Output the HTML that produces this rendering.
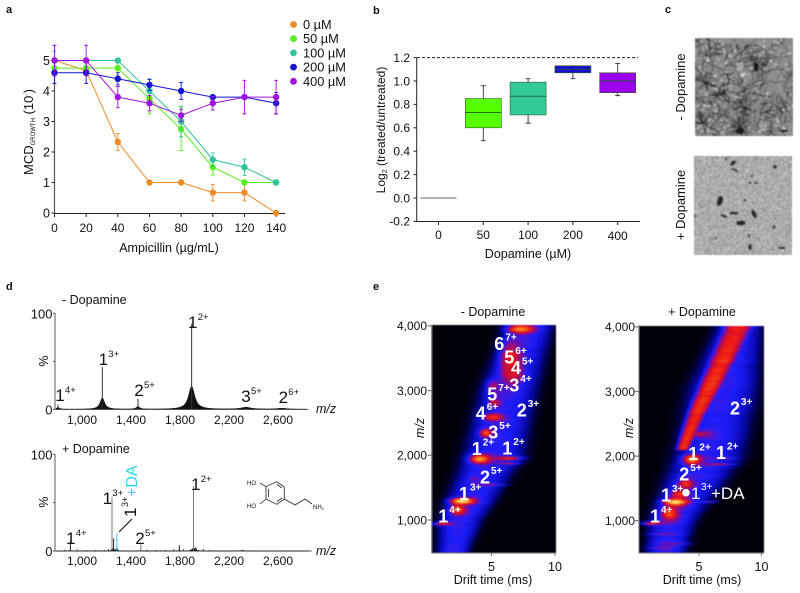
<!DOCTYPE html>
<html lang="en">
<head>
<meta charset="utf-8">
<title>Dopamine figure</title>
<style>
html,body{margin:0;padding:0;background:#fff;}
#page{position:relative;width:800px;height:593px;overflow:hidden;background:#fff;font-family:"Liberation Sans",Arial,sans-serif;}
#page canvas{position:absolute;display:block;}
#tem-top,#tem-bottom{filter:blur(0.45px);}
#heat-minus,#heat-plus{filter:blur(0.5px);}
#overlay{position:absolute;left:0;top:0;}
#overlay text{font-family:"Liberation Sans",Arial,sans-serif;fill:#111;}
</style>
</head>
<body>
<div id="page">
<canvas id="tem-top" width="98" height="98" style="left:695px;top:38px;width:98px;height:98px"></canvas>
<canvas id="tem-bottom" width="98" height="99" style="left:694px;top:156px;width:98px;height:99px"></canvas>
<canvas id="heat-minus" width="124" height="228" style="left:432px;top:325px;width:124px;height:228px"></canvas>
<canvas id="heat-plus" width="125" height="227" style="left:639px;top:326px;width:125px;height:227px"></canvas>
<svg id="overlay" width="800" height="593" viewBox="0 0 800 593" xmlns="http://www.w3.org/2000/svg">
  <g font-weight="bold" font-size="11">
    <text x="6" y="13">a</text>
    <text x="373" y="14">b</text>
    <text x="665" y="13">c</text>
    <text x="6" y="290">d</text>
    <text x="373" y="290">e</text>
  </g>
  <g id="chart-a"></g>
  <text x="169" y="252" text-anchor="middle" font-size="12.5">Ampicillin (µg/mL)</text>
  <text transform="translate(33,132) rotate(-90)" text-anchor="middle" font-size="13">MCD<tspan font-size="6" dy="2">GROWTH</tspan><tspan dy="-2"> (10</tspan><tspan font-size="7" dy="-4">-</tspan><tspan dy="4">)</tspan></text>
  <g id="legend-a"></g>

  <g id="chart-b"></g>
  <text transform="translate(385,130) rotate(-90)" text-anchor="middle" font-size="12">Log<tspan font-size="7" dy="2">2</tspan><tspan dy="-2"> (treated/untreated)</tspan></text>
  <text x="528" y="258" text-anchor="middle" font-size="12.5">Dopamine (µM)</text>

  <text transform="translate(685,87) rotate(-90)" text-anchor="middle" font-size="13">- Dopamine</text>
  <text transform="translate(685,205) rotate(-90)" text-anchor="middle" font-size="13">+ Dopamine</text>

  <g id="chart-d"></g>
  <text x="62" y="304" font-size="12.5">- Dopamine</text>
  <text x="62" y="453" font-size="12.5">+ Dopamine</text>
  <text transform="translate(48,361) rotate(-90)" text-anchor="middle" font-size="12.5">%</text>
  <text transform="translate(48,502) rotate(-90)" text-anchor="middle" font-size="12.5">%</text>
  <text x="316" y="413" font-size="12.5" font-style="italic">m/z</text>
  <text x="316" y="555" font-size="12.5" font-style="italic">m/z</text>
  <text transform="translate(137,497) rotate(-90)" font-size="16" style="fill:#25d8ee">+DA</text>
  <text transform="translate(136,517) rotate(-90)" font-size="17">1</text>
  <text transform="translate(128,507) rotate(-90)" font-size="9">3+</text>
  <line x1="119" y1="532" x2="132" y2="519" stroke="#111" stroke-width="1"/>
  <g fill="none" stroke="#222" stroke-width="0.8">
    <polyline points="266,486.7 276.7,481.7 284.3,487 284.3,499 276.7,504.3 266,499 266,486.7"/>
    <line x1="268.5" y1="489" x2="268.5" y2="497"/>
    <line x1="277" y1="484.5" x2="282" y2="488"/>
    <line x1="277" y1="501.5" x2="282" y2="498"/>
    <polyline points="284.3,499 295,505 305,499 312,504"/>
    <line x1="266" y1="486.7" x2="260" y2="483"/>
    <line x1="266" y1="499" x2="260" y2="504"/>
  </g>
  <text x="247" y="485" font-size="6">HO</text>
  <text x="247" y="508" font-size="6">HO</text>
  <text x="313" y="509" font-size="6">NH<tspan font-size="4" dy="1">2</tspan></text>

  <g id="chart-e"></g>
  <text x="493" y="316" text-anchor="middle" font-size="12.5">- Dopamine</text>
  <text x="702" y="316" text-anchor="middle" font-size="12.5">+ Dopamine</text>
  <text x="493" y="584" text-anchor="middle" font-size="12.5">Drift time (ms)</text>
  <text x="702" y="584" text-anchor="middle" font-size="12.5">Drift time (ms)</text>
  <text transform="translate(424,428) rotate(-90)" text-anchor="middle" font-size="12.5" font-style="italic">m/z</text>
  <text transform="translate(633,428) rotate(-90)" text-anchor="middle" font-size="12.5" font-style="italic">m/z</text>
  <circle cx="686" cy="492.7" r="3.8" fill="#fff"/>
  <text x="691" y="499" font-size="17" style="fill:#fff">1</text>
  <text x="701" y="490" font-size="10" style="fill:#fff">3+</text>
  <text x="711" y="499" font-size="17" style="fill:#fff">+DA</text>
  <g id="labels"></g>
</svg>
</div>
<script>
// ---------- Panel a data ----------
const ampicillinDoses = [0, 20, 40, 60, 80, 100, 120, 140];
const mcdTicks = [0, 1, 2, 3, 4, 5];
const seriesNames = ['0 µM', '50 µM', '100 µM', '200 µM', '400 µM'];
const seriesColors = ['#f28a26', '#57ee1c', '#30c596', '#1512d8', '#a012e2'];
const mcd0 = [5, 4.67, 2.33, 1, 1, 0.67, 0.67, 0];
const mcd50 = [4.75, 4.75, 4.75, 3.75, 2.75, 1.5, 1, 1];
const mcd100 = [5, 5, 5, 4, 3, 1.75, 1.5, 1];
const mcd200 = [4.6, 4.6, 4.4, 4.2, 4, 3.8, 3.8, 3.6];
const mcd400 = [5, 5, 3.8, 3.6, 3.2, 3.6, 3.8, 3.8];
const err0 = [0, 0, 0.28, 0, 0, 0.27, 0.27, 0];
const err50 = [0.25, 0.25, 0.25, 0.5, 0.7, 0.25, 0, 0];
const err100 = [0.3, 0, 0, 0.4, 0.5, 0.22, 0.27, 0];
const err200 = [0.35, 0.35, 0.2, 0.18, 0.28, 0, 0, 0.35];
const err400 = [0.5, 0.5, 0.35, 0.25, 0.2, 0.22, 0.55, 0.55];

// ---------- Panel b data ----------
const boxCategories = ['0', '50', '100', '200', '400'];
const boxTicks = [-0.2, 0, 0.2, 0.4, 0.6, 0.8, 1.0, 1.2];
const boxMin = [0, 0.49, 0.64, 1.02, 0.875];
const boxQ1 = [0, 0.6, 0.71, 1.07, 0.9];
const boxMedian = [0, 0.73, 0.87, 1.1, 1.0];
const boxQ3 = [0, 0.85, 0.99, 1.13, 1.07];
const boxMax = [0, 0.96, 1.02, 1.13, 1.15];
const boxColors = ['#888888', '#55ff00', '#33cc99', '#1a0fd0', '#9a00ee'];

// ---------- Panel d data (m/z, % height, broad base %, tail width) ----------
const specTickLabels = ['1,000', '1,400', '1,800', '2,200', '2,600'];
const specTickMz = [1000, 1400, 1800, 2200, 2600];
const minusMz = [804, 1166, 1457, 1895, 2339, 2630];
const minusHeight = [5, 44, 11, 89, 2, 1];
const minusBase = [2, 12, 3, 24, 2, 1];
const minusTail = [14, 22, 16, 30, 50, 50];
const plusMz = [905, 1245, 1258, 1285, 1480, 1795, 1910, 1930, 2310];
const plusHeight = [10, 56, 13, 18, 7, 6, 67, 4, 1];
const plusBase = [1, 2, 2, 3, 1, 1, 3, 1, 0.5];
const plusTail = [5, 6, 8, 6, 6, 6, 14, 8, 25];
const plusColorIndex = [0, 1, 0, 2, 1, 0, 1, 0, 0];
const plusMinorMz = [860, 960, 1040, 1110, 1180, 1215, 1530, 1600, 1680, 1750, 1830, 1990, 2040];
const plusMinorHeight = [1.5, 2, 1, 1, 1, 2, 1.5, 1, 1, 2, 2, 2, 1];

// ---------- Panel e data ----------
const mzTicks = [1000, 2000, 3000, 4000];
const mzTickLabels = ['1,000', '2,000', '3,000', '4,000'];
const driftTicks = [5, 10];
const bandMz = [500, 1000, 2000, 3000, 4000];
const minusBandLeft = [0.55, 0.6, 2.5, 3.8, 5.9];
const minusBandRight = [3.3, 4.4, 7.8, 8.8, 10];
const plusBandLeft = [0.55, 0.7, 2.7, 3.75, 6.1];
const plusBandRight = [4, 4.9, 8.8, 9.9, 10.2];
const minusPeakDrift = [1.1, 2.65, 2.3, 4.05, 6.3, 6.3, 4.9, 4.55, 5.1, 5.2, 5.1, 6.45, 6.6, 7.25, 3.6, 5.3];
const minusPeakMz = [950, 1300, 1170, 1950, 1960, 1880, 1550, 2350, 2600, 2820, 3080, 3500, 3300, 3960, 1650, 2960];
const minusPeakAmp = [0.72, 1, 0.8, 0.88, 0.72, 0.62, 0.6, 0.8, 0.74, 0.68, 0.6, 0.72, 0.66, 0.85, 0.5, 0.5];
const minusPeakSx = [0.8, 0.9, 0.6, 0.8, 1.1, 0.9, 1.1, 0.5, 0.8, 0.5, 0.5, 0.75, 0.7, 1.05, 0.5, 0.6];
const minusPeakSy = [22, 36, 60, 55, 24, 14, 10, 50, 45, 45, 70, 200, 160, 55, 60, 60];
const plusPeakDrift = [1.2, 3.08, 2.6, 4.4, 3.9, 6.5, 7, 5, 3.4, 2.2, 3, 2, 5.8];
const plusPeakMz = [965, 1295, 1120, 1955, 1580, 1880, 1970, 2350, 1420, 800, 650, 590, 1300];
const plusPeakAmp = [0.72, 1, 0.78, 0.86, 0.72, 0.62, 0.55, 0.62, 0.74, 0.55, 0.55, 0.55, 0.55];
const plusPeakSx = [0.8, 0.9, 0.7, 0.7, 0.55, 1.2, 0.9, 1.0, 0.7, 1.1, 1.2, 1.1, 0.6];
const plusPeakSy = [22, 45, 80, 60, 60, 12, 12, 40, 60, 10, 10, 10, 10];
const plusRidgeMz = [2300, 2667, 3000, 3500, 4000];
const plusRidgeDrift = [4.05, 4.8, 5.65, 6.9, 8.1];
const plusRidgeWidth = [0.75, 0.95, 1.15, 1.35, 1.5];

// ---------- Annotation labels: number, charge, x, baseline ----------
const labelNum = ['1','1','2','1','1','3','2','4','5','3','5','4','6','1','1','2','1','1','2'];
const labelSup = ['4+','3+','5+','2+','2+','5+','3+','6+','7+','4+','6+','5+','7+','4+','3+','5+','2+','2+','3+'];
const labelX = [443.3,464,485,476.7,507.3,493.3,521.7,480.7,492.3,514.3,509.3,516,499.3,655,666,684.3,693.3,721,735];
const labelY = [522.7,500,483.3,455,454.3,438.3,416.7,419.3,400.7,391.7,363.3,374,350,522.3,501.7,480.7,460,459,414.3];
const spectrumNum = ['1','1','2','1','3','2','1','1','2','1'];
const spectrumSup = ['4+','3+','5+','2+','5+','6+','4+','3+','5+','2+'];
const spectrumX = [60,103.3,139,192.7,246,283.3,70.7,107.3,140,195.7];
const spectrumY = [401,365,396,328,402,403,544,504,544,490];

const NS = 'http://www.w3.org/2000/svg';
function make(tag, parent, props) {
  const el = document.createElementNS(NS, tag);
  for (const k in props) el.setAttribute(k, props[k]);
  parent.appendChild(el);
  return el;
}
function seeded(seed) {
  let s = seed >>> 0;
  return function () {
    s = (s * 1664525 + 1013904223) >>> 0;
    return s / 4294967296;
  };
}

// ---------- Panel a ----------
(function () {
  const g = document.getElementById('chart-a');
  const xA = v => 54.5 + v * 1.583;
  const yA = v => 213 - v * 30.5;
  const yAxis = make('line', g, { x1: 54.5, x2: 54.5, y1: 45, y2: 213.5, stroke: '#555', 'stroke-width': 1.2 });
  
  
  const xAxis = make('line', g, { x1: 54, x2: 285, y1: 213.5, y2: 213.5, stroke: '#222', 'stroke-width': 1 });
  
  
  ampicillinDoses.forEach(d => {
    const t = make('line', g, { x1: xA(d), x2: xA(d), y1: 213.5, y2: 217, stroke: '#222' });
    
    
    const l = make('text', g, { x: xA(d), y: 232, 'text-anchor': 'middle', 'font-size': 12 });
    l.textContent = d;
    
    
  });
  mcdTicks.forEach(v => {
    const t = make('line', g, { x1: 51.5, x2: 54.5, y1: yA(v), y2: yA(v), stroke: '#222' });
    
    
    const l = make('text', g, { x: 50, y: yA(v) + 4.5, 'text-anchor': 'end', 'font-size': 12.5 });
    l.textContent = v;
    
    
  });
  const all = [mcd0, mcd50, mcd100, mcd200, mcd400];
  const errs = [err0, err50, err100, err200, err400];
  all.forEach((vals, s) => {
    const col = seriesColors[s];
    const sg = make('g', g, {});
    
    
    vals.forEach((v, i) => {
      const e = errs[s][i];
      if (!e) return;
      const x = xA(ampicillinDoses[i]);
      const bar = make('path', sg, { d: `M${x} ${yA(v + e)}V${yA(v - e)}M${x - 2} ${yA(v + e)}h4M${x - 2} ${yA(v - e)}h4`, stroke: col, fill: 'none', 'stroke-width': 0.9 });
      
      
    });
    const line = make('polyline', sg, { points: vals.map((v, i) => xA(ampicillinDoses[i]) + ',' + yA(v)).join(' '), fill: 'none', stroke: col, 'stroke-width': 1 });
    
    
    vals.forEach((v, i) => {
      const p = make('circle', sg, { cx: xA(ampicillinDoses[i]), cy: yA(v), r: 3.2, fill: col });
      
      
    });
  });
  const lg = document.getElementById('legend-a');
  seriesNames.forEach((n, i) => {
    const y = 24.5 + i * 14.2;
    const m = make('circle', lg, { cx: 293.5, cy: y, r: 3.4, fill: seriesColors[i] });
    
    
    const t = make('text', lg, { x: 303, y: y + 4.5, 'font-size': 12.8 });
    t.textContent = n;
    
    
  });
})();

// ---------- Panel b ----------
(function () {
  const g = document.getElementById('chart-b');
  const yB = v => 198 - v * 117;
  const xB = i => 438.5 + i * 44.8;
  const yAxis = make('line', g, { x1: 416.7, x2: 416.7, y1: 57.5, y2: 221.5, stroke: '#222' });
  
  
  const xAxis = make('line', g, { x1: 416, x2: 640, y1: 221.5, y2: 221.5, stroke: '#222' });
  
  
  const dash = make('line', g, { x1: 417, x2: 638, y1: yB(1.2), y2: yB(1.2), stroke: '#222', 'stroke-dasharray': '3 2' });
  
  
  boxTicks.forEach(v => {
    const t = make('line', g, { x1: 413.5, x2: 416.7, y1: yB(v), y2: yB(v), stroke: '#222' });
    
    
    const l = make('text', g, { x: 410, y: yB(v) + 4.3, 'text-anchor': 'end', 'font-size': 12 });
    l.textContent = v.toFixed(1);
    
    
  });
  boxCategories.forEach((c, i) => {
    const x = xB(i);
    const t = make('line', g, { x1: x, x2: x, y1: 221.5, y2: 225, stroke: '#222' });
    
    
    const l = make('text', g, { x: x, y: i === 4 ? 240 : 239, 'text-anchor': 'middle', 'font-size': 12 });
    l.textContent = c;
    
    
    const wh = make('path', g, { d: `M${x} ${yB(boxMax[i])}V${yB(boxMin[i])}M${x - 2.5} ${yB(boxMax[i])}h5M${x - 2.5} ${yB(boxMin[i])}h5`, stroke: i === 0 ? 'none' : '#333', fill: 'none', 'stroke-width': 0.9 });
    
    
    const b = make('rect', g, { x: x - 18, y: yB(boxQ3[i]), width: 36, height: Math.max(0.6, yB(boxQ1[i]) - yB(boxQ3[i])), fill: boxColors[i], stroke: i === 0 ? 'none' : '#2a5a20', 'stroke-width': 0.6 });
    
    
    const m = make('line', g, { x1: x - 18, x2: x + 18, y1: yB(boxMedian[i]), y2: yB(boxMedian[i]), stroke: i === 0 ? '#777' : '#1d5a30', 'stroke-width': 0.9 });
    
    
  });
})();

// ---------- Panel d ----------
(function () {
  const g = document.getElementById('chart-d');
  const panels = [
    { top: 313.3, zero: 409.3, end: 308, mz: minusMz, h: minusHeight, base: minusBase, tail: minusTail },
    { top: 454.3, zero: 551, end: 312, mz: plusMz, h: plusHeight, base: plusBase, tail: plusTail }
  ];
  const xD = mz => 82 + (mz - 1000) * 0.1225;
  panels.forEach((p, idx) => {
    const yD = v => p.zero - v / 100 * (p.zero - p.top);
    const axisY = make('line', g, { x1: 55, x2: 55, y1: p.top, y2: p.zero, stroke: '#333', 'stroke-width': 0.8 });
    
    
    const axisX = make('line', g, { x1: 55, x2: p.end, y1: p.zero, y2: p.zero, stroke: '#333', 'stroke-width': 0.8 });
    
    
    [[0, '0'], [50, ''], [100, '100']].forEach(t => {
      const tk = make('line', g, { x1: 53, x2: 55, y1: yD(t[0]), y2: yD(t[0]), stroke: '#333', 'stroke-width': 0.8 });
      
      
      if (t[1]) {
        const l = make('text', g, { x: 52.5, y: yD(t[0]) + 5, 'text-anchor': 'end', 'font-size': 13 });
        l.textContent = t[1];
        
        
      }
    });
    specTickMz.forEach((m, i) => {
      const l = make('text', g, { x: xD(m), y: idx ? 565 : 424, 'text-anchor': 'middle', 'font-size': 12 });
      l.textContent = specTickLabels[i];
      
      
    });
    let d = '';
    for (let x = 56; x <= p.end - 3; x += 0.5) {
      const mz = 1000 + (x - 82) / 0.1225;
      let v = 0;
      p.mz.forEach((m, i) => {
        const dist = (mz - m) / p.tail[i];
        v += p.base[i] / (1 + dist * dist);
      });
      d += (d ? 'L' : 'M') + x + ' ' + yD(v).toFixed(2);
    }
    d += `L${p.end - 3} ${p.zero}L56 ${p.zero}Z`;
    const env = make('path', g, { d: d, fill: '#111', stroke: '#111', 'stroke-width': 0.5 });
    
    
    p.mz.forEach((m, i) => {
      const col = idx === 0 ? '#333' : ['#222', '#777', '#111'][plusColorIndex[i]];
      const stroke = idx === 1 && plusColorIndex[i] === 2 ? '#25c8e6' : col;
      const s = make('line', g, { x1: xD(m), x2: xD(m), y1: p.zero, y2: yD(p.h[i]), stroke: stroke, 'stroke-width': 1 });
      
      
    });
    if (idx === 1) {
      plusMinorMz.forEach((m, i) => {
        const s = make('line', g, { x1: xD(m), x2: xD(m), y1: p.zero, y2: yD(plusMinorHeight[i]), stroke: '#222', 'stroke-width': 0.8 });
        
        
      });
    }
  });
})();

// ---------- Panel e ----------
const stops = [[0, [0, 0, 8]], [0.1, [0, 0, 60]], [0.25, [8, 8, 175]], [0.42, [30, 30, 255]], [0.56, [150, 10, 130]], [0.68, [235, 20, 20]], [0.85, [255, 140, 30]], [1, [255, 240, 130]]];
function colorAt(t) {
  t = Math.max(0, Math.min(1, t));
  for (let i = 1; i < stops.length; i++) {
    if (t <= stops[i][0]) {
      const a = stops[i - 1], b = stops[i];
      const f = (t - a[0]) / (b[0] - a[0]);
      return [0, 1, 2].map(k => a[1][k] + (b[1][k] - a[1][k]) * f);
    }
  }
  return stops[stops.length - 1][1];
}
function interp(xs, ys, x) {
  if (x <= xs[0]) return ys[0] + (ys[1] - ys[0]) * (x - xs[0]) / (xs[1] - xs[0]);
  for (let i = 1; i < xs.length; i++) {
    if (x <= xs[i]) return ys[i - 1] + (ys[i] - ys[i - 1]) * (x - xs[i - 1]) / (xs[i] - xs[i - 1]);
  }
  return ys[ys.length - 1];
}
function heatmap(id, cfg) {
  const cv = document.getElementById(id);
  const ctx = cv.getContext('2d');
  const W = cv.width, H = cv.height;
  const im = ctx.createImageData(W, H);
  const rnd = seeded(cfg.seed);
  let streak = 0;
  for (let r = 0; r < H; r++) {
    const py = cfg.top + r;
    const mz = 1000 + (cfg.y1000 - py) / cfg.mzScale * 1000;
    const L = interp(bandMz, cfg.left, mz), R = interp(bandMz, cfg.right, mz);
    const c = (L + R) / 2, w = (R - L) / 2;
    streak = streak * 0.4 + (rnd() - 0.5) * 0.05;
    for (let q = 0; q < W; q++) {
      const d = (cfg.leftPx + q - cfg.zeroPx) / cfg.msScale;
      const t = (d - c) / w;
      let v = 0.34 * Math.exp(-Math.pow(Math.abs(t) / 0.95, 4)) + 0.09 * Math.exp(-t * t / 0.3);
      cfg.peakDrift.forEach((pd, i) => {
        const dx = (d - pd) / (cfg.peakSx[i] * 0.75), dy = (mz - cfg.peakMz[i]) / (cfg.peakSy[i] * 0.95);
        const g = Math.exp(-(dx * dx + dy * dy) / 2);
        v = Math.max(v, cfg.peakAmp[i] * g + v * (1 - g));
      });
      if (cfg.ridge && mz > 2100) {
        const rc = interp(plusRidgeMz, plusRidgeDrift, mz), rw = interp(plusRidgeMz, plusRidgeWidth, mz);
        const rt = (d - rc) / rw;
        const rv = 0.71 * Math.exp(-Math.pow(Math.abs(rt), 3) * 1.1);
        v = Math.max(v, rv);
      }
      if (v > 0.02) v += streak * Math.min(1, v * 3) + (rnd() - 0.5) * 0.03;
      const col = colorAt(v);
      const o = (r * W + q) * 4;
      im.data[o] = col[0]; im.data[o + 1] = col[1]; im.data[o + 2] = col[2]; im.data[o + 3] = 255;
    }
  }
  ctx.putImageData(im, 0, 0);
}
heatmap('heat-minus', { seed: 11, top: 325, y1000: 520, mzScale: 64.7, leftPx: 432, zeroPx: 428, msScale: 12.7, left: minusBandLeft, right: minusBandRight, peakDrift: minusPeakDrift, peakMz: minusPeakMz, peakAmp: minusPeakAmp, peakSx: minusPeakSx, peakSy: minusPeakSy, ridge: false });
heatmap('heat-plus', { seed: 23, top: 326, y1000: 520.7, mzScale: 64.6, leftPx: 639, zeroPx: 636.5, msScale: 12.5, left: plusBandLeft, right: plusBandRight, peakDrift: plusPeakDrift, peakMz: plusPeakMz, peakAmp: plusPeakAmp, peakSx: plusPeakSx, peakSy: plusPeakSy, ridge: true });

(function () {
  const g = document.getElementById('chart-e');
  [{ plotL: 431.7, plotR: 556, zero: 428, ms: 12.7, y1k: 520, sc: 64.7, labelR: 427 }, { plotL: 639, plotR: 764, zero: 636.5, ms: 12.5, y1k: 520.7, sc: 64.6, labelR: 635 }].forEach(p => {
    const yE = m => p.y1k - (m - 1000) / 1000 * p.sc;
    const xE = d => p.zero + d * p.ms;
    const a1 = make('line', g, { x1: p.plotL, x2: p.plotL, y1: 325, y2: 553, stroke: '#777', 'stroke-width': 1 });
    
    
    const a2 = make('line', g, { x1: p.plotL, x2: p.plotR, y1: 553, y2: 553, stroke: '#777', 'stroke-width': 1 });
    
    
    mzTicks.forEach((m, i) => {
      const t = make('line', g, { x1: p.plotL - 4, x2: p.plotL, y1: yE(m), y2: yE(m), stroke: '#777', 'stroke-width': 1.2 });
      
      
      const l = make('text', g, { x: p.labelR, y: yE(m) + 4.3, 'text-anchor': 'end', 'font-size': 12 });
      l.textContent = mzTickLabels[i];
      
      
    });
    driftTicks.forEach(d => {
      const t = make('line', g, { x1: xE(d), x2: xE(d), y1: 553, y2: 556, stroke: '#777', 'stroke-width': 1 });
      
      
      const l = make('text', g, { x: xE(d), y: 571, 'text-anchor': 'middle', 'font-size': 12.5 });
      l.textContent = d;
      
      
    });
  });
  const lg = document.getElementById('labels');
  labelNum.forEach((n, i) => {
    const t = make('text', lg, { x: labelX[i], y: labelY[i], 'text-anchor': 'middle', 'font-size': 18, 'font-weight': 'bold', style: 'fill:#fff' });
    t.textContent = n;
    
    
    const s = make('text', lg, { x: labelX[i] + 6, y: labelY[i] - 9.5, 'font-size': 10, 'font-weight': 'bold', style: 'fill:#fff' });
    s.textContent = labelSup[i];
    
    
  });
  spectrumNum.forEach((n, i) => {
    const t = make('text', lg, { x: spectrumX[i], y: spectrumY[i], 'text-anchor': 'middle', 'font-size': 17 });
    t.textContent = n;
    
    
    const s = make('text', lg, { x: spectrumX[i] + 5, y: spectrumY[i] - 8, 'font-size': 9.5 });
    s.textContent = spectrumSup[i];
    
    
  });
})();

// ---------- Panel c micrographs (procedural texture) ----------
(function () {
  const ctx = document.getElementById('tem-top').getContext('2d');
  const r = seeded(7);
  ctx.fillStyle = '#8a8a8a';
  ctx.fillRect(0, 0, 98, 98);
  for (let i = 0; i < 420; i++) {
    ctx.fillStyle = 'rgba(225,225,225,' + (0.25 + r() * 0.5) + ')';
    ctx.beginPath();
    ctx.arc(r() * 98, r() * 98, 0.6 + r() * 1.3, 0, 7);
    ctx.fill();
  }
  // fine fibre network spread everywhere
  for (let i = 0; i < 230; i++) {
    let x = r() * 98, y = r() * 98, a = r() * 6.28;
    ctx.strokeStyle = 'rgba(20,20,20,' + (0.35 + r() * 0.4) + ')';
    ctx.lineWidth = 0.5 + r() * 0.6;
    ctx.beginPath(); ctx.moveTo(x, y);
    const n = 3 + Math.floor(r() * 5);
    for (let k = 0; k < n; k++) {
      a += (r() - 0.5) * 1.3;
      x += Math.cos(a) * 4; y += Math.sin(a) * 4;
      ctx.lineTo(x, y);
    }
    ctx.stroke();
  }
  const hubs = [[61, 28, 18], [45, 90, 20], [50, 70, 16], [10, 45, 14], [8, 85, 14], [30, 55, 10], [15, 10, 8]];
  hubs.forEach(h => {
    for (let i = 0; i < h[2]; i++) {
      let x = h[0], y = h[1], a = r() * 6.28;
      ctx.strokeStyle = 'rgba(20,20,20,0.65)';
      ctx.lineWidth = 0.8;
      ctx.beginPath(); ctx.moveTo(x, y);
      for (let k = 0; k < 3; k++) {
        a += (r() - 0.5) * 1.0;
        x += Math.cos(a) * 4; y += Math.sin(a) * 4;
        ctx.lineTo(x, y);
      }
      ctx.stroke();
    }
  });
  ctx.fillStyle = 'rgba(150,150,150,0.55)';
  ctx.beginPath(); ctx.ellipse(82, 45, 13, 13, 0, 0, 7); ctx.fill();
  ctx.beginPath(); ctx.ellipse(55, 3, 30, 4, 0, 0, 7); ctx.fill();
  ctx.fillStyle = 'rgba(15,15,15,0.85)';
  ctx.beginPath(); ctx.ellipse(61, 29, 2.2, 4.5, 0, 0, 7); ctx.fill();
  ctx.beginPath(); ctx.ellipse(45, 93, 4, 3, 0, 0, 7); ctx.fill();
  ctx.fillRect(86, 92, 7, 2);
})();
(function () {
  const ctx = document.getElementById('tem-bottom').getContext('2d');
  const r = seeded(31);
  const im = ctx.createImageData(98, 99);
  for (let i = 0; i < im.data.length; i += 4) {
    const v = 172 + (r() - 0.5) * 70;
    im.data[i] = im.data[i + 1] = im.data[i + 2] = v;
    im.data[i + 3] = 255;
  }
  ctx.putImageData(im, 0, 0);
  const blobs = [[26, 45, 2.6, 5, 0.3], [40, 57, 4.5, 1.3, 0], [30, 60, 3.5, 1.1, 0.4], [47, 67, 4.5, 2.2, 0], [60, 58, 1.8, 4.5, -0.4], [39, 7, 1.6, 3.2, 0.8], [41, 14, 4, 0.8, 0.5], [81, 11, 2, 1.6, -0.5], [56, 27, 1.3, 1, 0], [62, 27, 2.5, 0.7, 0], [51, 44, 1.5, 1, 0.7], [80, 71, 1.6, 1.6, 0], [88, 92, 3.6, 0.9, 0], [56, 91, 1.6, 3, 0], [55, 80, 1, 1.5, 0], [22, 82, 2, 0.6, -0.4], [1, 60, 0.7, 2, 0], [58, 20, 0.9, 0.9, 0], [32, 3, 0.8, 1.5, 0.4]];
  ctx.fillStyle = 'rgba(22,22,22,0.9)';
  blobs.forEach(b => {
    ctx.beginPath();
    ctx.ellipse(b[0], b[1], b[2], b[3], b[4], 0, 7);
    ctx.fill();
  });
})();
</script>
</body>
</html>
